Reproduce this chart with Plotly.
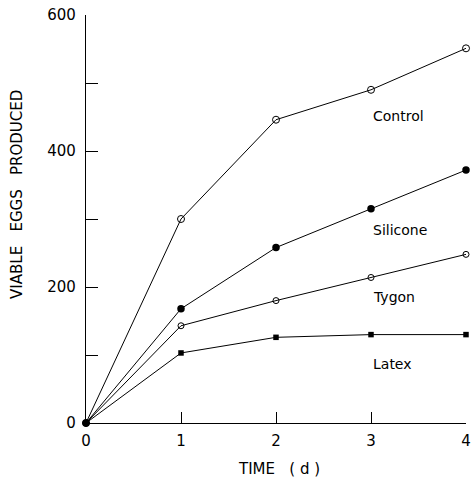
import plotly.graph_objects as go

# ---- data ----
days = [0, 1, 2, 3, 4]
control = [0, 300, 446, 490, 551]
silicone = [0, 168, 258, 315, 372]
tygon = [0, 143, 180, 214, 248]
latex = [0, 103, 126, 130, 130]

series_names = ["Control", "Silicone", "Tygon", "Latex"]
label_y = [452, 284, 185, 87]          # where each series name is written
label_x = 3.0

x_tick_vals = [0, 1, 2, 3, 4]
x_tick_text = ["0", "1", "2", "3", "4"]
y_tick_vals = [0, 100, 200, 300, 400, 500, 600]
y_tick_text = ["0", "", "200", "", "400", "", "600"]

# ---- styles ----
FONT = "DejaVu Sans"
styles = [
    dict(symbol="circle-open", size=7, color="black", line=dict(width=1, color="black")),
    dict(symbol="circle", size=7.5, color="black"),
    dict(symbol="circle-open", size=6, color="black", line=dict(width=1, color="black")),
    dict(symbol="square", size=5.5, color="black"),
]

fig = go.Figure()
for name, vals, st in zip(series_names, [control, silicone, tygon, latex], styles):
    fig.add_trace(go.Scatter(
        x=days, y=vals, mode="lines+markers", name=name,
        line=dict(color="black", width=1),
        marker=st, cliponaxis=False, showlegend=False,
    ))

for name, ly in zip(series_names, label_y):
    fig.add_annotation(x=label_x, y=ly, text=name, showarrow=False,
                       xanchor="left", yanchor="middle",
                       font=dict(family=FONT, size=14, color="black"))

# axis titles
fig.add_annotation(xref="paper", yref="paper", x=-0.182, y=0.561,
                   text="VIABLE&nbsp;&nbsp; EGGS&nbsp;&nbsp; PRODUCED", textangle=-90,
                   showarrow=False, xanchor="center", yanchor="middle",
                   font=dict(family=FONT, size=15, color="black"))
fig.add_annotation(xref="paper", yref="paper", x=0.508, y=-0.113,
                   text="TIME&nbsp;&nbsp; ( d )", showarrow=False,
                   xanchor="center", yanchor="middle",
                   font=dict(family=FONT, size=15, color="black"))

axis_common = dict(showline=True, linecolor="black", linewidth=1.3,
                   ticks="inside", tickwidth=1.2, tickcolor="black",
                   showgrid=False, zeroline=False, mirror=False, automargin=False,
                   tickfont=dict(family=FONT, size=15, color="black"))

fig.update_xaxes(range=[0, 4], tickvals=x_tick_vals, ticktext=x_tick_text,
                 ticklen=11, ticklabelstandoff=4, **axis_common)
fig.update_yaxes(range=[0, 600], tickvals=y_tick_vals, ticktext=y_tick_text,
                 ticklen=12, ticklabelstandoff=6, **axis_common)

fig.update_layout(width=471, height=482,
                  margin=dict(l=86, r=5, t=15, b=59, autoexpand=False),
                  paper_bgcolor="white", plot_bgcolor="white",
                  font=dict(family=FONT, color="black"))

fig.write_html("out.html")
